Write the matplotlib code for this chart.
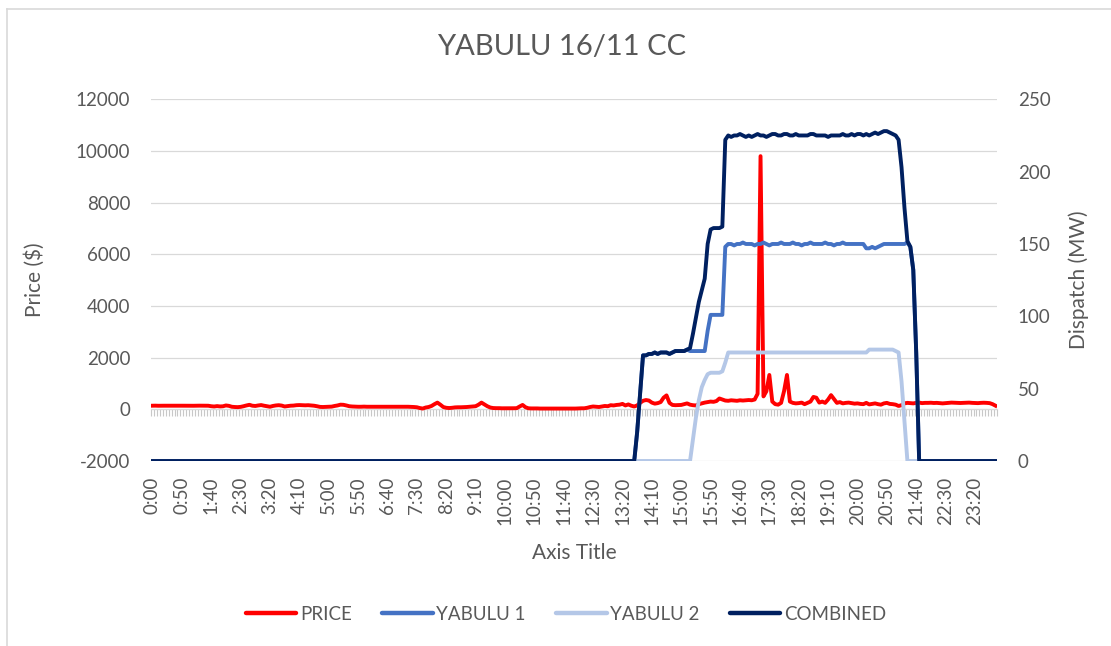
import matplotlib
matplotlib.use("Agg")
import matplotlib.pyplot as plt
from matplotlib.lines import Line2D
import numpy as np

plt.rcParams["font.family"] = ["Lato", "DejaVu Sans"]
plt.rcParams["axes.unicode_minus"] = False

# %% values, one row per hour (5-minute intervals)
PRICE = [
    140, 142, 138, 141, 140, 139, 142, 140, 141, 138, 140, 139,   # 0:00
    141, 140, 138, 140, 142, 139, 140, 139, 120, 110, 125, 112,   # 1:00
    118, 150, 135, 100, 90, 85, 95, 120, 150, 175, 140, 130,
    150, 165, 140, 120, 100, 130, 150, 160, 145, 110, 125, 140,
    145, 160, 165, 160, 155, 160, 150, 140, 120, 95, 90, 95,
    100, 105, 130, 150, 180, 175, 150, 120, 110, 105, 100, 100,   # 5:00
    105, 100, 100, 98, 100, 102, 100, 98, 100, 100, 98, 100,
    100, 98, 100, 100, 95, 90, 80, 50, 30, 70, 90, 130,
    200, 260, 180, 90, 60, 50, 60, 75, 80, 80, 85, 90,
    100, 110, 120, 180, 260, 190, 120, 70, 50, 45, 45, 40,
    40, 38, 40, 42, 45, 110, 170, 80, 40, 35, 35, 35,             # 10:00
    30, 30, 28, 30, 30, 28, 30, 30, 28, 30, 30, 32,
    30, 35, 40, 40, 60, 90, 110, 100, 90, 110, 130, 120,
    160, 150, 170, 180, 210, 150, 190, 140, 110, 150, 250, 330,
    360, 340, 260, 220, 240, 280, 450, 540, 250, 170, 160, 165,
    170, 200, 230, 180, 160, 150, 200, 230, 260, 280, 300, 290,   # 15:00
    320, 420, 380, 340, 330, 350, 340, 330, 350, 340, 350, 360,
    350, 380, 600, 9800, 500, 700, 1330, 300, 200, 180, 250, 700,
    1330, 300, 250, 230, 240, 260, 200, 250, 300, 480, 450, 260,
    300, 250, 380, 550, 400, 250, 280, 230, 250, 260, 240, 220,
    230, 210, 200, 250, 190, 210, 230, 200, 180, 230, 250, 210,   # 20:00
    200, 180, 130, 160, 230, 250, 240, 230, 250, 260, 240, 250,
    250, 255, 245, 250, 240, 230, 240, 250, 260, 255, 250, 245,
    250, 255, 260, 250, 245, 240, 250, 255, 250, 240, 200, 140,
]

YABULU_1 = [
    0, 0, 0, 0, 0, 0, 0, 0, 0, 0, 0, 0,
    0, 0, 0, 0, 0, 0, 0, 0, 0, 0, 0, 0,
    0, 0, 0, 0, 0, 0, 0, 0, 0, 0, 0, 0,
    0, 0, 0, 0, 0, 0, 0, 0, 0, 0, 0, 0,
    0, 0, 0, 0, 0, 0, 0, 0, 0, 0, 0, 0,
    0, 0, 0, 0, 0, 0, 0, 0, 0, 0, 0, 0,
    0, 0, 0, 0, 0, 0, 0, 0, 0, 0, 0, 0,
    0, 0, 0, 0, 0, 0, 0, 0, 0, 0, 0, 0,
    0, 0, 0, 0, 0, 0, 0, 0, 0, 0, 0, 0,
    0, 0, 0, 0, 0, 0, 0, 0, 0, 0, 0, 0,
    0, 0, 0, 0, 0, 0, 0, 0, 0, 0, 0, 0,
    0, 0, 0, 0, 0, 0, 0, 0, 0, 0, 0, 0,
    0, 0, 0, 0, 0, 0, 0, 0, 0, 0, 0, 0,
    0, 0, 0, 0, 0, 0, 0, 0, 0, 20, 47, 73,                       # 13:00
    73, 74, 74, 75, 74, 75, 75, 75, 74, 75, 76, 76,
    76, 76, 77, 76, 76, 76, 76, 76, 76, 90, 101, 101,
    101, 101, 101, 148, 150, 150, 149, 150, 150, 151, 150, 150,
    150, 149, 150, 150, 151, 150, 149, 150, 150, 150, 151, 150,
    150, 150, 151, 150, 150, 149, 150, 150, 151, 150, 150, 150,
    150, 151, 150, 150, 149, 150, 150, 151, 150, 150, 150, 150,
    150, 150, 150, 147, 147, 148, 147, 148, 149, 150, 150, 150,   # 20:00
    150, 150, 150, 150, 150, 151, 148, 132, 75, 0, 0, 0,
    0, 0, 0, 0, 0, 0, 0, 0, 0, 0, 0, 0,
    0, 0, 0, 0, 0, 0, 0, 0, 0, 0, 0, 0,
]

YABULU_2 = [
    0, 0, 0, 0, 0, 0, 0, 0, 0, 0, 0, 0,
    0, 0, 0, 0, 0, 0, 0, 0, 0, 0, 0, 0,
    0, 0, 0, 0, 0, 0, 0, 0, 0, 0, 0, 0,
    0, 0, 0, 0, 0, 0, 0, 0, 0, 0, 0, 0,
    0, 0, 0, 0, 0, 0, 0, 0, 0, 0, 0, 0,
    0, 0, 0, 0, 0, 0, 0, 0, 0, 0, 0, 0,
    0, 0, 0, 0, 0, 0, 0, 0, 0, 0, 0, 0,
    0, 0, 0, 0, 0, 0, 0, 0, 0, 0, 0, 0,
    0, 0, 0, 0, 0, 0, 0, 0, 0, 0, 0, 0,
    0, 0, 0, 0, 0, 0, 0, 0, 0, 0, 0, 0,
    0, 0, 0, 0, 0, 0, 0, 0, 0, 0, 0, 0,
    0, 0, 0, 0, 0, 0, 0, 0, 0, 0, 0, 0,
    0, 0, 0, 0, 0, 0, 0, 0, 0, 0, 0, 0,
    0, 0, 0, 0, 0, 0, 0, 0, 0, 0, 0, 0,
    0, 0, 0, 0, 0, 0, 0, 0, 0, 0, 0, 0,
    0, 0, 0, 0, 15, 30, 42, 51, 56, 60, 61, 61,                   # 15:00
    61, 61, 62, 68, 75, 75, 75, 75, 75, 75, 75, 75,
    75, 75, 75, 75, 75, 75, 75, 75, 75, 75, 75, 75,
    75, 75, 75, 75, 75, 75, 75, 75, 75, 75, 75, 75,
    75, 75, 75, 75, 75, 75, 75, 75, 75, 75, 75, 75,
    75, 75, 75, 75, 77, 77, 77, 77, 77, 77, 77, 77,               # 20:00
    77, 76, 75, 55, 28, 0, 0, 0, 0, 0, 0, 0,
    0, 0, 0, 0, 0, 0, 0, 0, 0, 0, 0, 0,
    0, 0, 0, 0, 0, 0, 0, 0, 0, 0, 0, 0,
]

COMBINED = [
    0, 0, 0, 0, 0, 0, 0, 0, 0, 0, 0, 0,
    0, 0, 0, 0, 0, 0, 0, 0, 0, 0, 0, 0,
    0, 0, 0, 0, 0, 0, 0, 0, 0, 0, 0, 0,
    0, 0, 0, 0, 0, 0, 0, 0, 0, 0, 0, 0,
    0, 0, 0, 0, 0, 0, 0, 0, 0, 0, 0, 0,
    0, 0, 0, 0, 0, 0, 0, 0, 0, 0, 0, 0,
    0, 0, 0, 0, 0, 0, 0, 0, 0, 0, 0, 0,
    0, 0, 0, 0, 0, 0, 0, 0, 0, 0, 0, 0,
    0, 0, 0, 0, 0, 0, 0, 0, 0, 0, 0, 0,
    0, 0, 0, 0, 0, 0, 0, 0, 0, 0, 0, 0,
    0, 0, 0, 0, 0, 0, 0, 0, 0, 0, 0, 0,
    0, 0, 0, 0, 0, 0, 0, 0, 0, 0, 0, 0,
    0, 0, 0, 0, 0, 0, 0, 0, 0, 0, 0, 0,
    0, 0, 0, 0, 0, 0, 0, 0, 0, 20, 47, 73,                       # 13:00
    73, 74, 74, 75, 74, 75, 75, 75, 74, 75, 76, 76,
    76, 76, 77, 78, 88, 99, 110, 118, 126, 150, 160, 161,
    161, 161, 162, 222, 225, 224, 225, 225, 226, 225, 224, 225,
    224, 225, 226, 225, 225, 224, 225, 226, 226, 225, 225, 226,
    226, 225, 225, 226, 225, 225, 225, 225, 226, 226, 225, 225,
    225, 225, 224, 225, 225, 225, 225, 226, 225, 225, 226, 225,
    226, 226, 225, 226, 225, 226, 227, 226, 227, 228, 228, 227,   # 20:00
    226, 225, 222, 203, 175, 152, 148, 132, 75, 0, 0, 0,
    0, 0, 0, 0, 0, 0, 0, 0, 0, 0, 0, 0,
    0, 0, 0, 0, 0, 0, 0, 0, 0, 0, 0, 0,
]

TICK_LABELS = ["0:00", "0:50", "1:40", "2:30", "3:20", "4:10", "5:00", "5:50",
               "6:40", "7:30", "8:20", "9:10", "10:00", "10:50", "11:40", "12:30",
               "13:20", "14:10", "15:00", "15:50", "16:40", "17:30", "18:20",
               "19:10", "20:00", "20:50", "21:40", "22:30", "23:20"]

GREY_TXT = "#595959"
GRID = "#d9d9d9"
FS = 13.5

x = np.arange(len(PRICE))

fig = plt.figure(figsize=(11.11, 6.46), dpi=100)
ax = fig.add_axes([151 / 1111, 1 - 461 / 646, 846 / 1111, 361.7 / 646])
ax2 = ax.twinx()

# price on the primary axis
ax.plot(x, PRICE, color="#FF0000", lw=2.8, solid_joinstyle="round")
ax.set_xlim(-0.5, len(PRICE) - 0.5)
ax.set_ylim(-2000, 12000)
ax.set_yticks(range(-2000, 12001, 2000))
ax.grid(axis="y", color=GRID, lw=0.9)
ax.set_axisbelow(True)
ax.set_xticks(x[::10], TICK_LABELS, rotation=90)
ax.tick_params(axis="x", length=0, pad=11, labelsize=FS, labelcolor=GREY_TXT)
ax.tick_params(axis="y", length=0, pad=15, labelsize=FS, labelcolor=GREY_TXT)
for s in ax.spines.values():
    s.set_visible(False)

# category axis line crossing at price 0, with a tick per interval
zero_ax = ax.secondary_xaxis(2000 / 14000)
zero_ax.set_xticks(np.arange(len(PRICE) + 1) - 0.5)
zero_ax.tick_params(axis="x", length=5, width=0.8, color="#c8c8c8",
                    labelbottom=False, labeltop=False, direction="out")
for s in zero_ax.spines.values():
    s.set_color(GRID)

# dispatch on the secondary axis
ax2.plot(x, YABULU_1, color="#4472C4", lw=2.8)
ax2.plot(x, YABULU_2, color="#B4C7E7", lw=2.8)
ax2.plot(x, COMBINED, color="#002060", lw=2.8)
ax2.set_ylim(0, 250)
ax2.set_yticks(range(0, 251, 50))
ax2.tick_params(axis="y", length=0, pad=15, labelsize=FS, labelcolor=GREY_TXT)
for s in ax2.spines.values():
    s.set_visible(False)

ax.set_ylabel("Price ($)", fontsize=15, color=GREY_TXT)
ax.yaxis.set_label_coords(-0.125, 0.5)
ax2.set_ylabel("Dispatch (MW)", fontsize=15, color=GREY_TXT)
ax2.yaxis.set_label_coords(1.084, 0.5)
ax.set_xlabel("Axis Title", fontsize=15, color=GREY_TXT)
ax.xaxis.set_label_coords(0.5, -0.226)

fig.text(562 / 1111, 1 - 47 / 646, "YABULU 16/11 CC", fontsize=21,
         color=GREY_TXT, ha="center", va="center")

handles = [Line2D([], [], color=c, lw=3.2, solid_capstyle="round")
           for c in ["#FF0000", "#4472C4", "#B4C7E7", "#002060"]]
fig.legend(handles, ["PRICE", "YABULU 1", "YABULU 2", "COMBINED"],
           loc="center", bbox_to_anchor=(566 / 1111, 1 - 614 / 646), ncol=4,
           frameon=False, fontsize=FS, labelcolor=GREY_TXT, handlelength=2.7,
           handletextpad=0.2, columnspacing=1.6)

# chart frame (only the top and left edges fall inside the picture)
fig.add_artist(Line2D([7 / 1111, 7 / 1111], [0, 1 - 9 / 646], color=GRID, lw=1.2))
fig.add_artist(Line2D([7 / 1111, 1], [1 - 9 / 646, 1 - 9 / 646], color=GRID, lw=1.2))

fig.savefig("out.png", dpi=100)
